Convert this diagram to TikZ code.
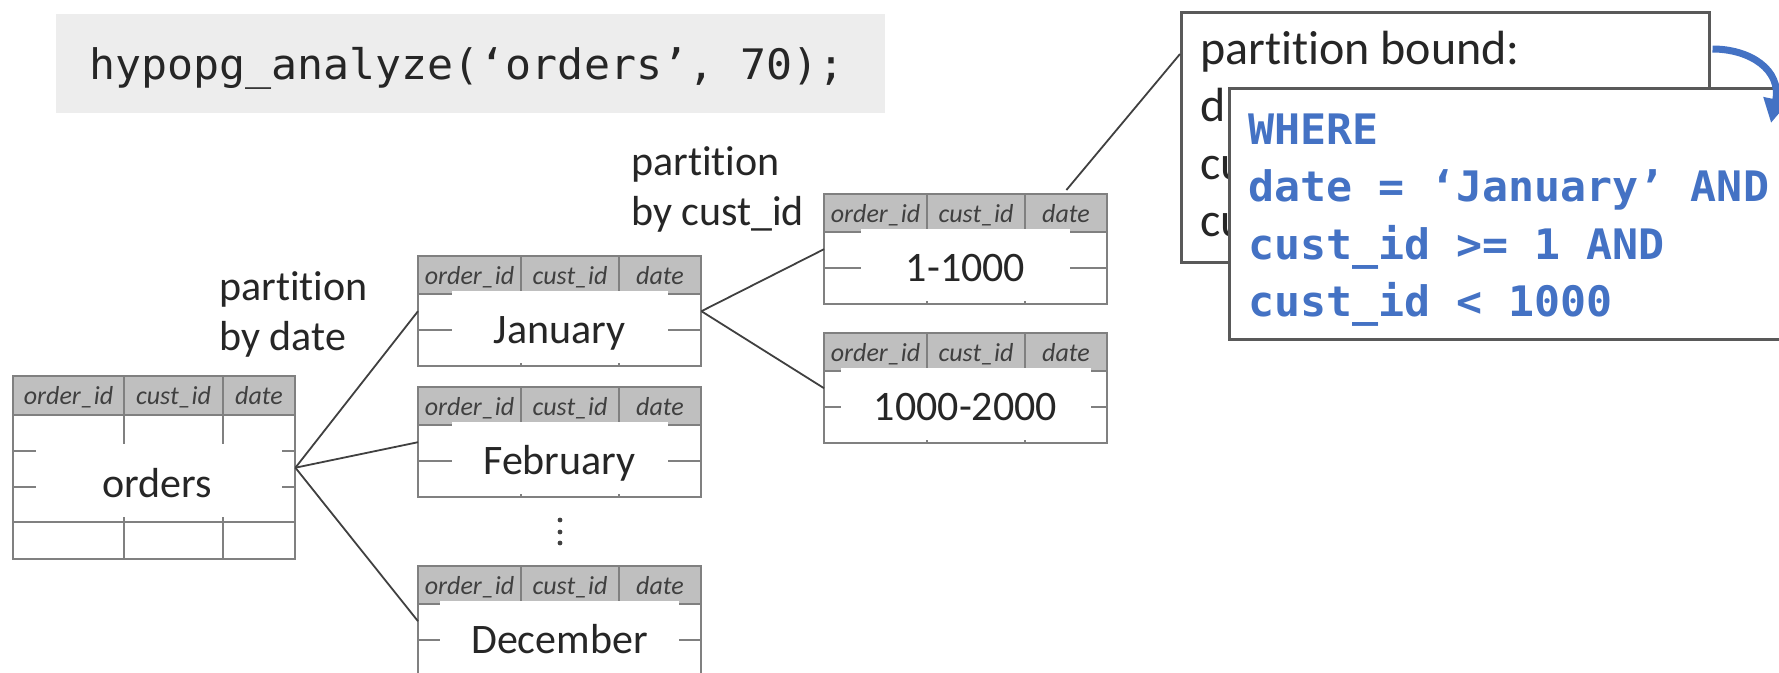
\documentclass[tikz,border=0pt]{standalone}
\usepackage{fontspec}
\setmainfont[Ligatures={TeX,NoCommon}]{Carlito}
\newfontfamily\codefont[FakeStretch=1.03]{DejaVu Sans Mono}
\usetikzlibrary{calc,arrows.meta}

\definecolor{codebg}{HTML}{EDEDED}
\definecolor{hdrfill}{HTML}{BFBFBF}
\definecolor{tabgray}{HTML}{808080}
\definecolor{conngray}{HTML}{404040}
\definecolor{maintext}{HTML}{262626}
\definecolor{hdrtext}{HTML}{404040}
\definecolor{boxgray}{HTML}{595959}
\definecolor{sqlblue}{HTML}{4472C4}

\newcommand\hdrfont{\itshape\fontsize{26}{29}\selectfont}
\newcommand\lblfont{\fontsize{42}{50}\selectfont}
\newcommand\boundfont{\fontsize{48}{57.6}\selectfont}
\newcommand\sqlfont{\codefont\fontsize{42}{50}\selectfont}

\tikzset{
  tabline/.style={draw=tabgray, line width=1.8pt},
  conn/.style={draw=conngray, line width=1.8pt},
  hdr/.style={font=\hdrfont, text=hdrtext, inner sep=0pt, anchor=base},
  lbl/.style={font=\lblfont, text=maintext, inner sep=0pt, anchor=base},
  txt/.style={font=\lblfont, text=maintext, inner sep=0pt, anchor=base west},
  boundtxt/.style={font=\boundfont, text=maintext, inner sep=0pt, anchor=base west},
  sqltxt/.style={font=\sqlfont\bfseries, text=sqlblue, inner sep=0pt, anchor=base west},
  tabframe/.style={inner sep=0pt, draw=none, anchor=north west},
  card/.style={draw=boxgray, line width=2.5pt, fill=white, inner sep=0pt, anchor=north west},
}

% partition table: name, left x, top y, label, half width of label patch
\newcommand\parttab[5]{%
  \begin{scope}[shift={(#2,#3)}]
    \fill[hdrfill] (0,0) rectangle (283,38);
    \draw[tabline] (0,38) -- (283,38) (0,74) -- (283,74)
                   (103,0) -- (103,110) (201,0) -- (201,110);
    \fill[white] (141.5-#5,35) rectangle (141.5+#5,107);
    \draw[tabline] (0,0) rectangle (283,110);
    \node[hdr] (#1-c1) at (51.5,28) {order\_id};
    \node[hdr] (#1-c2) at (152,28) {cust\_id};
    \node[hdr] (#1-c3) at (242,28) {date};
    \node[lbl] (#1-name) at (141.5,87) {#4};
  \end{scope}
  \node[tabframe, minimum width=283pt, minimum height=110pt] (#1) at (#2,#3) {};
}

\begin{document}
\begin{tikzpicture}[x=1pt, y=-1pt]
  \useasboundingbox (0,0) rectangle (1779,672);
  \clip (0,0) rectangle (1779,672);

  % function call
  \node[tabframe, fill=codebg, minimum width=829pt, minimum height=99pt] (code) at (56,14) {};
  \node[inner sep=0pt, anchor=base west, font=\sqlfont, text=maintext] (codetext) at (89,79)
    {hypopg\_analyze(‘orders’, 70);};

  % parent table
  \fill[hdrfill] (13,376) rectangle (295,415);
  \draw[tabline] (13,415) -- (295,415) (13,451) -- (295,451) (13,487) -- (295,487)
                 (13,522) -- (295,522) (124,376) -- (124,559) (223,376) -- (223,559);
  \fill[white] (36,444) rectangle (282,517);
  \draw[tabline] (13,376) rectangle (295,559);
  \node[hdr] (orders-c1) at (68.5,404) {order\_id};
  \node[hdr] (orders-c2) at (173.5,404) {cust\_id};
  \node[hdr] (orders-c3) at (259,404) {date};
  \node[lbl] (orders-name) at (157,497) {orders};
  \node[tabframe, minimum width=282pt, minimum height=183pt] (orders) at (13,376) {};

  % first level partitions
  \parttab{jan}{418}{256}{January}{108}
  \parttab{feb}{418}{387}{February}{108}
  \parttab{dec}{418}{566}{December}{119.5}

  % second level partitions
  \parttab{t1}{824}{194}{1-1000}{104.5}
  \parttab{t2}{824}{333}{1000-2000}{125}

  % continuation dots
  \fill[conngray] (560,520) circle (2.4) (560,532) circle (2.4) (560,543) circle (2.4);

  % captions
  \node[txt] (pd1) at (219,300) {partition};
  \node[txt] (pd2) at (219,350) {by date};
  \node[txt] (pc1) at (631,175) {partition};
  \node[txt] (pc2) at (631,225) {by cust\_id};

  % connectors
  \draw[conn] (orders.east) -- (jan.west);
  \draw[conn] (orders.east) -- (feb.west);
  \draw[conn] (orders.east) -- (dec.west);
  \draw[conn] (jan.east) -- (t1.west);
  \draw[conn] (jan.east) -- (t2.west);

  % partition bound card (its lower lines are mostly hidden by the next card)
  \node[card, minimum width=528pt, minimum height=250pt] (bound) at (1180,11) {};
  \node[boundtxt] (b1) at (1200,64) {partition bound:};
  \node[boundtxt] (b2) at (1200,121.6) {d};
  \node[boundtxt] (b3) at (1200,179.2) {cu};
  \node[boundtxt] (b4) at (1200,236.8) {cu};
  \draw[conn] ($(bound.north west)+(0,43)$) -- ($(t1.north east)+(-41,-4)$);

  % generated condition card
  \node[card, minimum width=620pt, minimum height=251pt] (cond) at (1228,87) {};
  \node[sqltxt] (s1) at (1248,144) {WHERE};
  \node[sqltxt] (s2) at (1248,201.5) {date = ‘January’ AND};
  \node[sqltxt] (s3) at (1248,259) {cust\_id >= 1 AND};
  \node[sqltxt] (s4) at (1248,316.5) {cust\_id < 1000};

  % rewrite arrow
  \coordinate (arrowstart) at ($(bound.north east)+(2,38)$);
  \coordinate (arrowend) at (1771,123);
  \draw[draw=sqlblue, line width=7pt, -{Triangle[width=24pt,length=24pt]}]
    (arrowstart) .. controls (1750,49) and (1782,70) .. (arrowend);
\end{tikzpicture}
\end{document}
